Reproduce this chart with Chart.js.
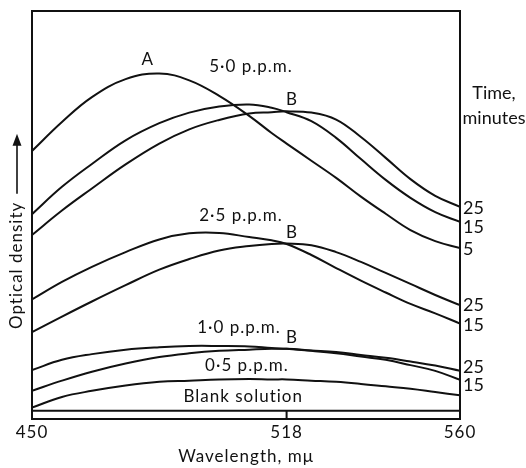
<!DOCTYPE html>
<html><head><meta charset="utf-8">
<script src="https://cdn.jsdelivr.net/npm/chart.js@4/dist/chart.umd.min.js"></script>
<style>html,body{margin:0;padding:0;background:#fff}#wrap{width:526px;height:468px}</style>
</head><body><div id="wrap"><canvas id="c" width="526" height="468"></canvas></div>
<script>
// ---- data (wavelength in mμ, optical density in arbitrary units) ----
const wavelengths = [450,458,466,475,484,492,500,508,514,518,524,530,536,542,548,554,560];
const ppm5_0_t5  = [0.657,0.728,0.789,0.833,0.847,0.830,0.792,0.743,0.701,0.675,0.633,0.591,0.545,0.503,0.463,0.436,0.419];
const ppm5_0_t15 = [0.502,0.569,0.625,0.683,0.725,0.751,0.766,0.771,0.763,0.752,0.730,0.689,0.637,0.586,0.542,0.507,0.483];
const ppm5_0_t25 = [0.451,0.511,0.565,0.624,0.675,0.710,0.733,0.749,0.752,0.754,0.751,0.734,0.691,0.640,0.588,0.547,0.520];
const ppm2_5_t15 = [0.293,0.336,0.373,0.409,0.440,0.455,0.456,0.446,0.438,0.429,0.402,0.370,0.339,0.310,0.282,0.259,0.234];
const ppm2_5_t25 = [0.213,0.251,0.288,0.328,0.366,0.392,0.413,0.424,0.429,0.430,0.426,0.409,0.385,0.358,0.331,0.304,0.279];
const ppm1_0_t15 = [0.120,0.145,0.159,0.170,0.176,0.179,0.179,0.178,0.174,0.172,0.167,0.161,0.153,0.145,0.132,0.118,0.096];
const ppm1_0_t25 = [0.069,0.094,0.116,0.136,0.152,0.161,0.167,0.170,0.172,0.172,0.168,0.164,0.157,0.150,0.141,0.131,0.118];
const ppm0_5     = [0.028,0.054,0.069,0.082,0.091,0.094,0.097,0.098,0.097,0.097,0.094,0.091,0.086,0.080,0.074,0.066,0.058];
const blank      = [0.020,0.020,0.020,0.020,0.020,0.020,0.020,0.020,0.020,0.020,0.020,0.020,0.020,0.020,0.020,0.020,0.020];
const xTickValues = [450,518,560];

// curve labels placed in data coordinates (wavelength, optical density)
const curveLabels = [
  {text:'A', x:480.9, y:0.880},
  {text:'5\u00b70 p.p.m.', x:508.5, y:0.863},
  {text:'B', x:519.3, y:0.782},
  {text:'2\u00b75 p.p.m.', x:505.8, y:0.498},
  {text:'B', x:519.3, y:0.456},
  {text:'1\u00b70 p.p.m.', x:505.3, y:0.225},
  {text:'B', x:519.3, y:0.199},
  {text:'0\u00b75 p.p.m.', x:507.4, y:0.132},
  {text:'Blank solution', x:506.4, y:0.054}
];
// time labels on the right (minutes), at optical density levels
const timeLabels = [
  {text:'25', y:0.517},{text:'15', y:0.471},{text:'5', y:0.417},
  {text:'25', y:0.278},{text:'15', y:0.231},
  {text:'25', y:0.127},{text:'15', y:0.082}
];

const FONT = 'Lato, "Open Sans", "DejaVu Sans", sans-serif';

// ---- piecewise-linear wavelength scale (the drawing's axis is not uniform) ----
const LinearScale = Chart.LinearScale || Chart.registry.getScale('linear');
const BREAK = 518, BREAK_FRAC = 254/427;
class PiecewiseScale extends LinearScale {
  _dec(v){
    return v <= BREAK ? (v - this.min)/(BREAK - this.min)*BREAK_FRAC
                      : BREAK_FRAC + (v - BREAK)/(this.max - BREAK)*(1 - BREAK_FRAC);
  }
  getPixelForValue(v){ return v == null ? NaN : this.getPixelForDecimal(this._dec(v)); }
  getValueForPixel(p){
    const d = this.getDecimalForPixel(p);
    return d <= BREAK_FRAC ? this.min + d/BREAK_FRAC*(BREAK - this.min)
                           : BREAK + (d - BREAK_FRAC)/(1 - BREAK_FRAC)*(this.max - BREAK);
  }
}
PiecewiseScale.id = 'piecewise';
PiecewiseScale.defaults = Object.assign({}, LinearScale.defaults);
Chart.register(PiecewiseScale);

const mk = (label, arr) => ({
  label, data: wavelengths.map((x,i)=>({x, y: arr[i]})),
  borderColor:'#111', borderWidth:2, pointRadius:0, fill:false, tension:0.4
});

const spacing = {
  id:'spacing',
  beforeDraw(chart){ chart.ctx.letterSpacing = '1px'; }
};

const decor = {
  id:'decor',
  afterDraw(chart){
    const {ctx, chartArea:a, scales:{x, y}} = chart;
    ctx.save();
    ctx.letterSpacing = '1px';
    // frame
    ctx.strokeStyle = '#111'; ctx.lineWidth = 2;
    ctx.strokeRect(a.left, a.top, a.right - a.left, a.bottom - a.top);
    // inner tick marks
    xTickValues.slice(1,-1).forEach(v => {
      const px = x.getPixelForValue(v);
      ctx.beginPath(); ctx.moveTo(px, a.bottom); ctx.lineTo(px, a.bottom - 8); ctx.stroke();
    });
    ctx.fillStyle = '#111';
    // curve labels
    ctx.font = '17px ' + FONT; ctx.textAlign = 'center'; ctx.textBaseline = 'middle';
    curveLabels.forEach(l => ctx.fillText(l.text, x.getPixelForValue(l.x), y.getPixelForValue(l.y)));
    // time labels
    ctx.letterSpacing = '0px';
    ctx.font = '18px ' + FONT; ctx.textAlign = 'left';
    timeLabels.forEach(l => ctx.fillText(l.text, a.right + 3, y.getPixelForValue(l.y)));
    ctx.textAlign = 'center';
    ctx.fillText('Time,', a.right + 34, y.getPixelForValue(0.799));
    ctx.fillText('minutes', a.right + 34, y.getPixelForValue(0.738));
    // y-axis title with arrow
    ctx.save();
    ctx.letterSpacing = '1px';
    ctx.translate(17, a.bottom - 90);
    ctx.rotate(-Math.PI/2);
    ctx.font = '17px ' + FONT; ctx.textAlign = 'left'; ctx.textBaseline = 'middle';
    const t = 'Optical density';
    ctx.fillText(t, 0, 0);
    const w = ctx.measureText(t).width;
    const s = w + 8, e = s + 60;
    ctx.lineWidth = 1.6;
    ctx.beginPath(); ctx.moveTo(s, 0); ctx.lineTo(e - 6, 0); ctx.stroke();
    ctx.beginPath(); ctx.moveTo(e, 0); ctx.lineTo(e - 12, -4.5); ctx.lineTo(e - 12, 4.5); ctx.closePath(); ctx.fill();
    ctx.restore();
    ctx.restore();
  }
};

new Chart(document.getElementById('c'), {
  type:'line',
  data:{ datasets:[
    mk('5·0 p.p.m., 5 min (A)', ppm5_0_t5),
    mk('5·0 p.p.m., 15 min', ppm5_0_t15),
    mk('5·0 p.p.m., 25 min', ppm5_0_t25),
    mk('2·5 p.p.m., 15 min', ppm2_5_t15),
    mk('2·5 p.p.m., 25 min', ppm2_5_t25),
    mk('1·0 p.p.m., 15 min', ppm1_0_t15),
    mk('1·0 p.p.m., 25 min', ppm1_0_t25),
    mk('0·5 p.p.m.', ppm0_5),
    mk('Blank solution', blank)
  ]},
  options:{
    responsive:false, animation:false, devicePixelRatio:1,
    layout:{ padding:{ top:11, right:66, left:0, bottom:0 } },
    plugins:{ legend:{display:false}, tooltip:{enabled:false} },
    scales:{
      x:{
        type:'piecewise', min:450, max:560,
        afterBuildTicks: s => { s.ticks = xTickValues.map(v => ({value:v})); },
        afterFit: s => { s.height = 49; },
        grid:{ display:false, drawTicks:false }, border:{ display:false },
        ticks:{ color:'#111', padding:3, maxRotation:0, autoSkip:false,
                font:{ family:FONT, size:17 }, callback: v => String(v) },
        title:{ display:true, text:'Wavelength, m\u03bc', color:'#111',
                font:{ family:FONT, size:17 }, padding:{ top:0, bottom:1 } }
      },
      y:{
        type:'linear', min:0, max:1,
        afterFit: s => { s.width = 32; },
        grid:{ display:false, drawTicks:false }, border:{ display:false },
        ticks:{ display:false }
      }
    }
  },
  plugins:[spacing, decor]
});
</script></body></html>
